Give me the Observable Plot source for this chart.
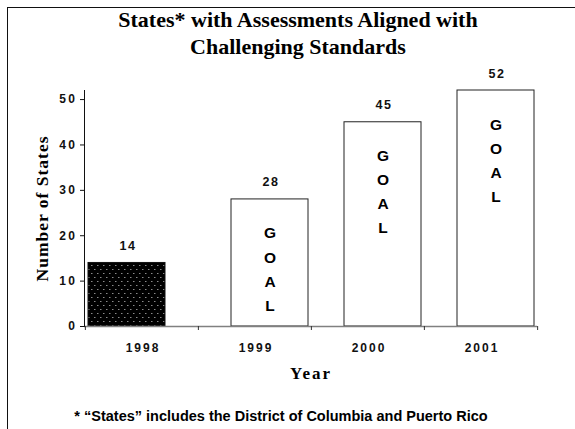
<!DOCTYPE html>
<html><head><meta charset="utf-8">
<script src="https://cdn.jsdelivr.net/npm/d3@7"></script>
<script src="https://cdn.jsdelivr.net/npm/@observablehq/plot@0.6"></script>
<style>
body{margin:0;background:#fff;}
#page{position:relative;width:575px;height:429px;overflow:hidden;background:#fff;}
#frame{position:absolute;left:7px;top:7px;width:600px;height:450px;border-top:1px solid #111;border-left:1px solid #111;}
#title{position:absolute;top:6px;left:0;width:596px;text-align:center;font-family:"Liberation Serif","Times New Roman",serif;font-weight:bold;font-size:22px;line-height:27px;color:#000;}
#chart{position:absolute;left:0;top:60px;}
#note{position:absolute;top:408px;left:0;width:562px;text-align:center;font-family:"Liberation Sans",Arial,sans-serif;font-weight:bold;font-size:14.5px;line-height:17px;color:#000;}
#chart g[aria-label="y-axis tick label"] text{letter-spacing:2.5px;}
#chart g[aria-label="x-axis tick label"] text{letter-spacing:2px;}
#chart .vals text{letter-spacing:1.5px;}
#chart .ylab text{letter-spacing:1px;}
#chart .xlab text{letter-spacing:2px;}
</style>
</head><body>
<div id="page">
  <div id="frame"></div>
  <div id="title"></div>
  <div id="chart"></div>
  <div id="note"></div>
</div>
<script>
const titleLines = ["States* with Assessments Aligned with", "Challenging Standards"];
const years = ["1998", "1999", "2000", "2001"];
const actualYears = ["1998"];
const actualValues = [14];
const goalYears = ["1999", "2000", "2001"];
const goalValues = [28, 45, 52];
const yTicks = [0, 10, 20, 30, 40, 50];
const goalWord = "GOAL";
const yLabel = "Number of States";
const xLabel = "Year";
const footnote = "* \u201cStates\u201d includes the District of Columbia and Puerto Rico";

document.getElementById("title").innerHTML = titleLines.join("<br>");
document.getElementById("note").textContent = footnote;

const actual = actualYears.map((y, i) => ({year: y, value: actualValues[i]}));
const goal = goalYears.map((y, i) => ({year: y, value: goalValues[i]}));

const W = 575, H = 320, mL = 84, mR = 38, mT = 30, mB = 54;
const bw = (W - mL - mR) / years.length;
const shift = 15;
const inset = 18;
const sans = "Liberation Sans, Arial, sans-serif";
const serif = "Liberation Serif, Times New Roman, serif";

const chart = Plot.plot({
  width: W, height: H,
  marginLeft: mL, marginRight: mR, marginTop: mT, marginBottom: mB,
  style: {fontFamily: sans, background: "transparent", overflow: "visible"},
  x: {domain: years, padding: 0, axis: null},
  y: {domain: [0, 52], axis: null},
  marks: [
    Plot.barY(actual, {x: "year", y: "value", fill: "url(#dots)", stroke: "#111", strokeWidth: 1, dx: -shift, insetLeft: inset, insetRight: inset}),
    Plot.barY(goal, {x: "year", y: "value", fill: "white", stroke: "#222", strokeWidth: 1, dx: shift, insetLeft: inset, insetRight: inset}),
    Plot.ruleY([0], {stroke: "#808080", strokeWidth: 1.5}),
    Plot.frame({anchor: "left", stroke: "#111"}),
    Plot.axisY({ticks: yTicks, tickSize: 4, tickPadding: 3, fontSize: 12, fontWeight: "bold", label: null, stroke: "#111", color: "#111"}),
    Plot.axisX({tickSize: 4, tickFormat: () => "", dx: -bw / 2, label: null, stroke: "#333"}),
    Plot.axisX([years[years.length - 1]], {tickSize: 4, tickFormat: () => "", dx: bw / 2, label: null, stroke: "#333"}),
    Plot.axisX({tickSize: 0, tickPadding: 17, fontSize: 12, fontWeight: "bold", label: null, color: "#111", dx: 1}),
    Plot.text(actual, {x: "year", y: "value", text: d => String(d.value), dx: -shift + 1, dy: -17, fontSize: 12.5, fontWeight: "bold", fill: "#111", className: "vals"}),
    Plot.text(goal, {x: "year", y: "value", text: d => String(d.value), dx: shift + 1, dy: -17, fontSize: 12.5, fontWeight: "bold", fill: "#111", className: "vals"}),
    Plot.text(goal, {x: "year", y: "value", text: () => goalWord.split("").join("\n"), dx: shift, dy: 22, lineAnchor: "top", lineHeight: 1.55, fontSize: 15.5, fontWeight: 900, fill: "#000"}),
    Plot.text([yLabel], {frameAnchor: "left", textAnchor: "middle", lineAnchor: "middle", rotate: -90, dx: -42, fontFamily: serif, fontSize: 17.5, fontWeight: "bold", fill: "#000", className: "ylab"}),
    Plot.text([xLabel], {frameAnchor: "bottom", textAnchor: "middle", lineAnchor: "middle", dy: 47, fontFamily: serif, fontSize: 17, fontWeight: "bold", fill: "#000", className: "xlab"})
  ]
});

const ns = "http://www.w3.org/2000/svg";
const defs = document.createElementNS(ns, "defs");
defs.innerHTML = '<pattern id="dots" width="6" height="8" patternUnits="userSpaceOnUse">' +
  '<rect width="6" height="8" fill="#000"/>' +
  '<rect x="1" y="1" width="1.5" height="1" fill="#8a8a8a"/>' +
  '<rect x="4" y="5" width="1.5" height="1" fill="#8a8a8a"/></pattern>';
chart.insertBefore(defs, chart.firstChild);
document.getElementById("chart").appendChild(chart);
</script>
</body></html>
